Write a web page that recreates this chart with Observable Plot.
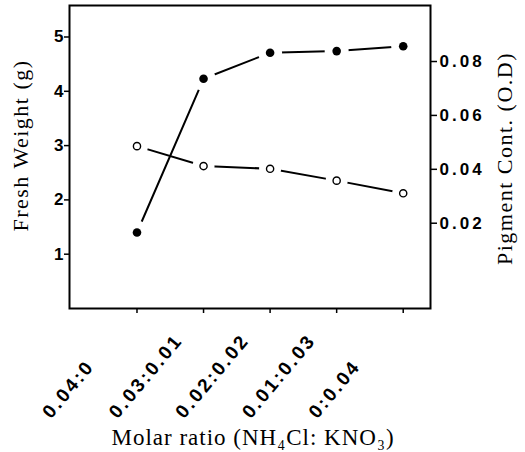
<!DOCTYPE html>
<html>
<head>
<meta charset="utf-8">
<script src="https://cdn.jsdelivr.net/npm/d3@7"></script>
<script src="https://cdn.jsdelivr.net/npm/@observablehq/plot@0.6"></script>
<style>
  body { margin: 0; background: #fff; }
  #chart svg { display: block; }
  g[aria-description="xticklabels"] text { letter-spacing: 2.5px; }
  g[aria-description="axistitle"] text { letter-spacing: 1.5px; }
  g[aria-description="xtitle"] text { letter-spacing: 1px; }
  g[font-family="Arial"] text { letter-spacing: 3px; }
</style>
</head>
<body>
<div id="chart"></div>
<script>
// Categories (molar ratio NH4Cl : KNO3)
const ratios = ["0.04:0", "0.03:0.01", "0.02:0.02", "0.01:0.03", "0:0.04"];
// Series (filled circles, left axis)
const freshWeight = [1.40, 4.23, 4.71, 4.74, 4.83];
// Series (open circles, right axis)
const pigment = [0.0486, 0.0412, 0.0402, 0.0358, 0.0311];
// Tick labels
const weightTicks = [1, 2, 3, 4, 5];
const pigmentTicks = [0.02, 0.04, 0.06, 0.08];
const xTitle = "Molar ratio (NH\u2084Cl: KNO\u2083)";
const yLeftTitle = "Fresh Weight (g)";
const yRightTitle = "Pigment Cont. (O.D)";

// map pigment units onto the left (fresh weight) scale
const pigToW = p => 0.578 + 49.63 * p;

const rows = ratios.map((r, i) => ({i, ratio: r, w: freshWeight[i], pw: pigToW(pigment[i])}));

const chart = Plot.plot({
  width: 525,
  height: 452,
  marginLeft: 69,
  marginRight: 95,
  marginTop: 5,
  marginBottom: 144,
  style: {background: "white", color: "black"},
  x: {domain: [-1.014, 4.41]},
  y: {domain: [0, 5.58]},
  marks: [
    Plot.frame({stroke: "black", strokeWidth: 2}),
    Plot.axisY(weightTicks, {
      anchor: "left", tickSize: 5, tickPadding: 1, strokeWidth: 1.5,
      tickFormat: d => String(d), label: null,
      fontSize: 17, fontWeight: "bold", fontFamily: "Liberation Sans"
    }),
    Plot.axisY(pigmentTicks.map(pigToW), {
      anchor: "right", tickSize: 6, tickPadding: 3, strokeWidth: 1.5,
      tickFormat: d => pigmentTicks.find(p => Math.abs(pigToW(p) - d) < 1e-6).toFixed(2),
      label: null,
      fontSize: 17, fontWeight: "bold", fontFamily: "Arial"
    }),
    Plot.axisX(ratios.map((r, i) => i), {
      anchor: "bottom", tickSize: 5, strokeWidth: 1.5, tickFormat: () => "", label: null
    }),
    Plot.lineY(rows, {x: "i", y: "w", stroke: "black", strokeWidth: 2}),
    Plot.lineY(rows, {x: "i", y: "pw", stroke: "black", strokeWidth: 2}),
    Plot.dot(rows, {x: "i", y: "w", r: 12, fill: "white", stroke: "none"}),
    Plot.dot(rows, {x: "i", y: "pw", r: 11, fill: "white", stroke: "none"}),
    Plot.dot(rows, {x: "i", y: "w", r: 4.3, fill: "black"}),
    Plot.dot(rows, {x: "i", y: "pw", r: 3.6, fill: "white", stroke: "black", strokeWidth: 1.4}),
    Plot.text(rows, {
      x: "i", text: "ratio", frameAnchor: "bottom", dx: -86, dy: 111,
      rotate: -50, textAnchor: "start", lineAnchor: "bottom",
      fontSize: 19, fontWeight: "bold", fontFamily: "Liberation Sans", fill: "black",
      ariaDescription: "xticklabels"
    }),
    Plot.text([yLeftTitle], {
      text: d => d, frameAnchor: "left", dx: -48.5, dy: -11.5, rotate: -90,
      textAnchor: "middle", lineAnchor: "middle", fontSize: 22, fontFamily: "Liberation Serif", fill: "black",
      ariaDescription: "axistitle"
    }),
    Plot.text([yRightTitle], {
      text: d => d, frameAnchor: "right", dx: 74.3, dy: 1.5, rotate: -90,
      textAnchor: "middle", lineAnchor: "middle", fontSize: 22, fontFamily: "Liberation Serif", fill: "black",
      ariaDescription: "axistitle"
    }),
    Plot.text([xTitle], {
      text: d => d, frameAnchor: "bottom", dx: 3, dy: 129,
      textAnchor: "middle", lineAnchor: "middle", fontSize: 23, fontFamily: "Liberation Serif", fill: "black",
      ariaDescription: "xtitle"
    })
  ]
});
document.getElementById("chart").appendChild(chart);
</script>
</body>
</html>
